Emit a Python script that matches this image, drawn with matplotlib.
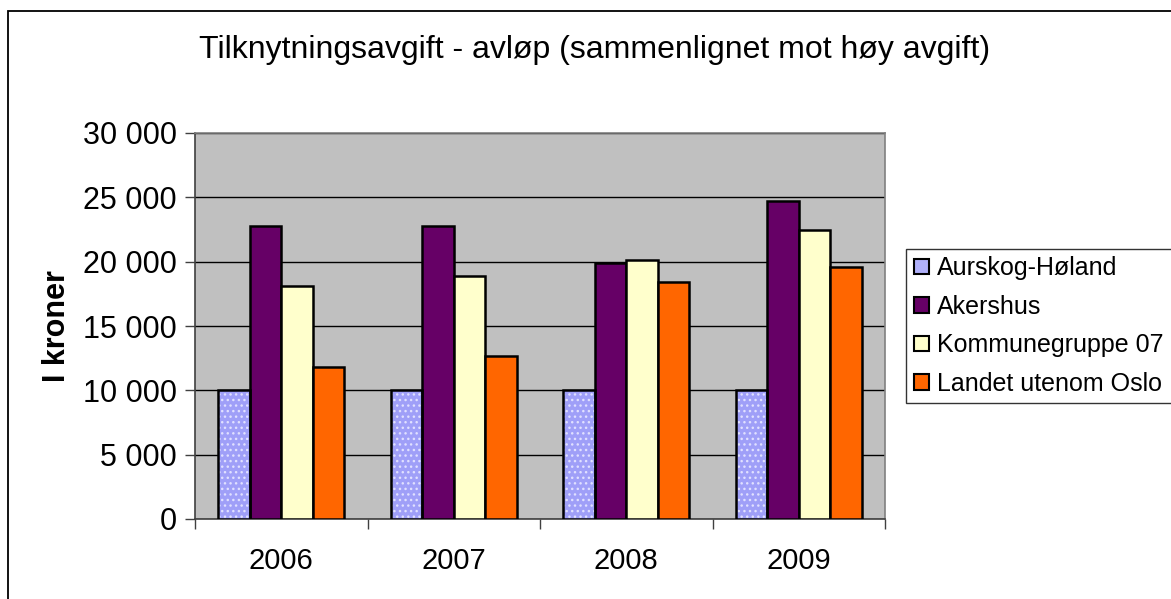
import matplotlib
matplotlib.use("Agg")
import matplotlib.pyplot as plt
import numpy as np
from matplotlib.patches import Rectangle

plt.rcParams['font.family'] = ['Liberation Sans', 'DejaVu Sans']

years = ['2006', '2007', '2008', '2009']
series_names = ['Aurskog-Høland', 'Akershus', 'Kommunegruppe 07', 'Landet utenom Oslo']
aurskog = [10000, 10000, 10000, 10000]
akershus = [22800, 22750, 19900, 24700]
kommunegruppe = [18100, 18900, 20100, 22500]
landet = [11800, 12650, 18450, 19550]
yticks = [0, 5000, 10000, 15000, 20000, 25000, 30000]
ytick_labels = ['0', '5 000', '10 000', '15 000', '20 000', '25 000', '30 000']

fig = plt.figure(figsize=(11.71, 5.99), dpi=100)
fig.patches.append(Rectangle((8/1171, -0.1), 1.2, 1.1 - 11/599, transform=fig.transFigure,
                             fill=False, edgecolor='black', linewidth=1.3))
ax = fig.add_axes([195/1171, 1 - 519/599, 690/1171, 386/599])
ax.set_facecolor('#c0c0c0')

x = np.arange(len(years))
w = 0.183
offsets = [-1.5 * w, -0.5 * w, 0.5 * w, 1.5 * w]
colors = ['#a8a8ff', '#660066', '#ffffcc', '#ff6600']
data = [aurskog, akershus, kommunegruppe, landet]

handles = []
for i, (vals, c) in enumerate(zip(data, colors)):
    if i == 0:
        ax.bar(x + offsets[i], vals, w, color='#9f9ff8', edgecolor='#e0e0ff', hatch='...',
               linewidth=0, zorder=3)
        ax.bar(x + offsets[i], vals, w, facecolor='none', edgecolor='black', linewidth=1.8,
               zorder=4)
        handles.append(Rectangle((0, 0), 1, 1, facecolor='#b0b0fa', edgecolor='black', linewidth=1.5))
    else:
        ax.bar(x + offsets[i], vals, w, color=c, edgecolor='black', linewidth=1.8, zorder=3)
        handles.append(Rectangle((0, 0), 1, 1, facecolor=c, edgecolor='black', linewidth=1.5))

ax.set_ylim(0, 30000)
ax.set_xlim(-0.5, 3.5)
ax.set_yticks(yticks)
ax.set_yticklabels(ytick_labels, fontsize=22)
ax.set_xticks(x)
ax.set_xticklabels(years, fontsize=21)
ax.set_xticks([-0.5, 0.5, 1.5, 2.5, 3.5], minor=True)
ax.tick_params(axis='x', which='major', length=0, pad=20)
ax.tick_params(axis='x', which='minor', length=7, width=1, color='#404040')
ax.tick_params(axis='y', length=7, width=1, color='#404040', pad=6)
ax.yaxis.grid(True, color='black', linewidth=1.0, zorder=1)
ax.set_axisbelow(True)
for s in ['top', 'right']:
    ax.spines[s].set_color('#808080')
    ax.spines[s].set_linewidth(1.2)
for s in ['left', 'bottom']:
    ax.spines[s].set_color('#404040')
    ax.spines[s].set_linewidth(1.2)

ax.set_ylabel('I kroner', fontsize=22, fontweight='bold', labelpad=8)

fig.text(595/1171, 1 - 50/599, 'Tilknytningsavgift - avløp (sammenlignet mot høy avgift)',
         fontsize=23, ha='center', va='center')

leg = fig.legend(handles, series_names, loc='center left',
                 bbox_to_anchor=(906/1171, 1 - 326/599, 270/1171, 0), mode='expand',
                 fontsize=18, frameon=True, fancybox=False, edgecolor='black',
                 handlelength=0.6, handleheight=0.6, handletextpad=0.35, labelspacing=0.58,
                 borderpad=0.3, borderaxespad=0)
leg.get_frame().set_linewidth(1.0)

fig.savefig('out.png', dpi=100)
